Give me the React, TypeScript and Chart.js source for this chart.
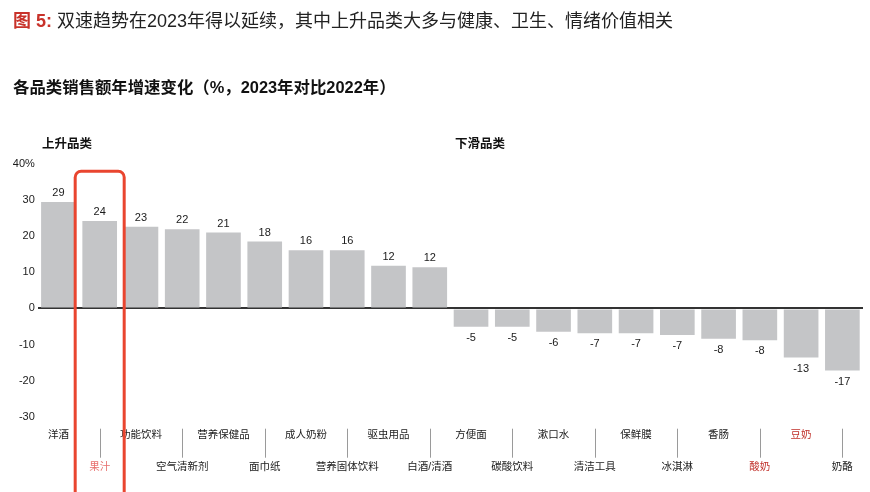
import { useEffect, useRef } from 'react';
import { Chart, registerables } from 'chart.js';

Chart.register(...registerables);

const categories = ['洋酒', '果汁', '功能饮料', '空气清新剂', '营养保健品', '面巾纸', '成人奶粉', '营养固体饮料', '驱虫用品', '白酒/清酒', '方便面', '碳酸饮料', '漱口水', '清洁工具', '保鲜膜', '冰淇淋', '香肠', '酸奶', '豆奶', '奶酪'];
const growthValues = [29.5, 24.2, 22.6, 21.9, 21.0, 18.5, 16.1, 16.1, 11.8, 11.4, -5.1, -5.1, -6.5, -6.9, -6.9, -7.4, -8.4, -8.8, -13.6, -17.2];
const growthLabels = [29, 24, 23, 22, 21, 18, 16, 16, 12, 12, -5, -5, -6, -7, -7, -7, -8, -8, -13, -17];
const yTicks = [-30, -20, -10, 0, 10, 20, 30, 40];
const lightRedLabels = ['果汁'];
const darkRedLabels = ['酸奶', '豆奶'];
const highlighted = '果汁';

const titleLead = '图 5: ';
const titleText = '双速趋势在2023年得以延续，其中上升品类大多与健康、卫生、情绪价值相关';
const subtitleText = '各品类销售额年增速变化（%，2023年对比2022年）';
const groupUp = '上升品类';
const groupDown = '下滑品类';

const FONT = '"Liberation Sans", "Noto Sans CJK SC", sans-serif';

const textPlugin = {
  id: 'texts',
  beforeDraw(chart: any) {
    const ctx = chart.ctx;
    ctx.save();
    ctx.textBaseline = 'middle';
    ctx.textAlign = 'left';
    ctx.font = `bold 18px ${FONT}`;
    ctx.fillStyle = '#c8322a';
    ctx.fillText(titleLead, 13, 22);
    const w = ctx.measureText(titleLead).width;
    ctx.font = `18px ${FONT}`;
    ctx.fillStyle = '#222';
    ctx.fillText(titleText, 13 + w, 22);
    ctx.font = `bold 16.4px ${FONT}`;
    ctx.fillStyle = '#111';
    ctx.fillText(subtitleText, 13, 88);
    ctx.font = `bold 12.5px ${FONT}`;
    ctx.fillText(groupUp, 42, 145);
    ctx.fillText(groupDown, 455, 145);
    ctx.restore();
  },
  afterDatasetsDraw(chart: any) {
    const ctx = chart.ctx;
    const meta = chart.getDatasetMeta(0);
    ctx.save();
    ctx.font = `11px ${FONT}`;
    ctx.fillStyle = '#1a1a1a';
    ctx.textAlign = 'center';
    ctx.textBaseline = 'middle';
    meta.data.forEach((el: any, i: number) => {
      const v = growthValues[i];
      const y = v >= 0 ? el.y - 9 : el.y + 11;
      ctx.fillText(String(growthLabels[i]), el.x, y);
    });
    ctx.restore();
  },
  afterDraw(chart: any) {
    const ctx = chart.ctx;
    const xs = chart.scales.x;
    const ys = chart.scales.y;
    const bottom = chart.chartArea.bottom;
    ctx.save();
    ctx.strokeStyle = '#9a9a9a';
    ctx.lineWidth = 1;
    categories.forEach((_c, i) => {
      if (i % 2 === 1) {
        const x = Math.round(xs.getPixelForValue(i)) + 0.5;
        ctx.beginPath();
        ctx.moveTo(x, bottom + 12);
        ctx.lineTo(x, bottom + 41);
        ctx.stroke();
      }
    });
    const idx = categories.indexOf(highlighted);
    const cx = xs.getPixelForValue(idx);
    const left = cx - 24.5;
    const right = cx + 24.5;
    const top = ys.getPixelForValue(38);
    const bot = chart.height + 10;
    const r = 6;
    ctx.strokeStyle = '#e9452f';
    ctx.lineWidth = 3;
    ctx.beginPath();
    ctx.moveTo(left, bot);
    ctx.lineTo(left, top + r);
    ctx.arcTo(left, top, left + r, top, r);
    ctx.lineTo(right - r, top);
    ctx.arcTo(right, top, right, top + r, r);
    ctx.lineTo(right, bot);
    ctx.stroke();
    ctx.restore();
  },
};

export default function App() {
  const ref = useRef<HTMLCanvasElement>(null);
  useEffect(() => {
    if (!ref.current) return;
    Chart.defaults.font.family = FONT;
    const chart = new Chart(ref.current, {
      type: 'bar',
      data: {
        labels: categories,
        datasets: [
          {
            data: growthValues,
            backgroundColor: '#c4c5c7',
            categoryPercentage: 1,
            barPercentage: 0.84,
          },
        ],
      },
      options: {
        animation: false,
        responsive: true,
        maintainAspectRatio: false,
        layout: { padding: { top: 164, right: 7, left: 0, bottom: 0 } },
        plugins: { legend: { display: false }, tooltip: { enabled: false }, title: { display: false } },
        scales: {
          x: {
            grid: { display: false, drawTicks: false },
            border: { display: false },
            afterFit: (s: any) => { s.height = 75.3; },
            ticks: {
              autoSkip: false,
              maxRotation: 0,
              minRotation: 0,
              padding: 2,
              font: { size: 10.5, lineHeight: '32px' },
              color: (c: any) => {
                const l = categories[c.index];
                if (lightRedLabels.includes(l)) return '#e8706e';
                if (darkRedLabels.includes(l)) return '#c0302a';
                return '#1a1a1a';
              },
              callback: (_v: any, i: number) => (i % 2 === 0 ? categories[i] : ['', categories[i]]),
            },
          },
          y: {
            min: yTicks[0],
            max: yTicks[yTicks.length - 1],
            z: 1,
            afterFit: (s: any) => { s.width = 37.8; },
            afterBuildTicks: (s: any) => { s.ticks = yTicks.map((v) => ({ value: v })); },
            border: { display: false },
            grid: {
              drawTicks: false,
              lineWidth: 2,
              color: (c: any) => (c.tick && c.tick.value === 0 ? '#333' : 'rgba(0,0,0,0)'),
            },
            ticks: {
              padding: 3,
              font: { size: 11 },
              color: '#1a1a1a',
              callback: (v: any) => (v === 40 ? '40%' : String(v)),
            },
          },
        },
      },
      plugins: [textPlugin],
    });
    return () => chart.destroy();
  }, []);
  return (
    <div style={{ position: 'fixed', left: 0, top: 0, width: 870, height: 492, background: '#fff' }}>
      <canvas ref={ref} />
    </div>
  );
}
